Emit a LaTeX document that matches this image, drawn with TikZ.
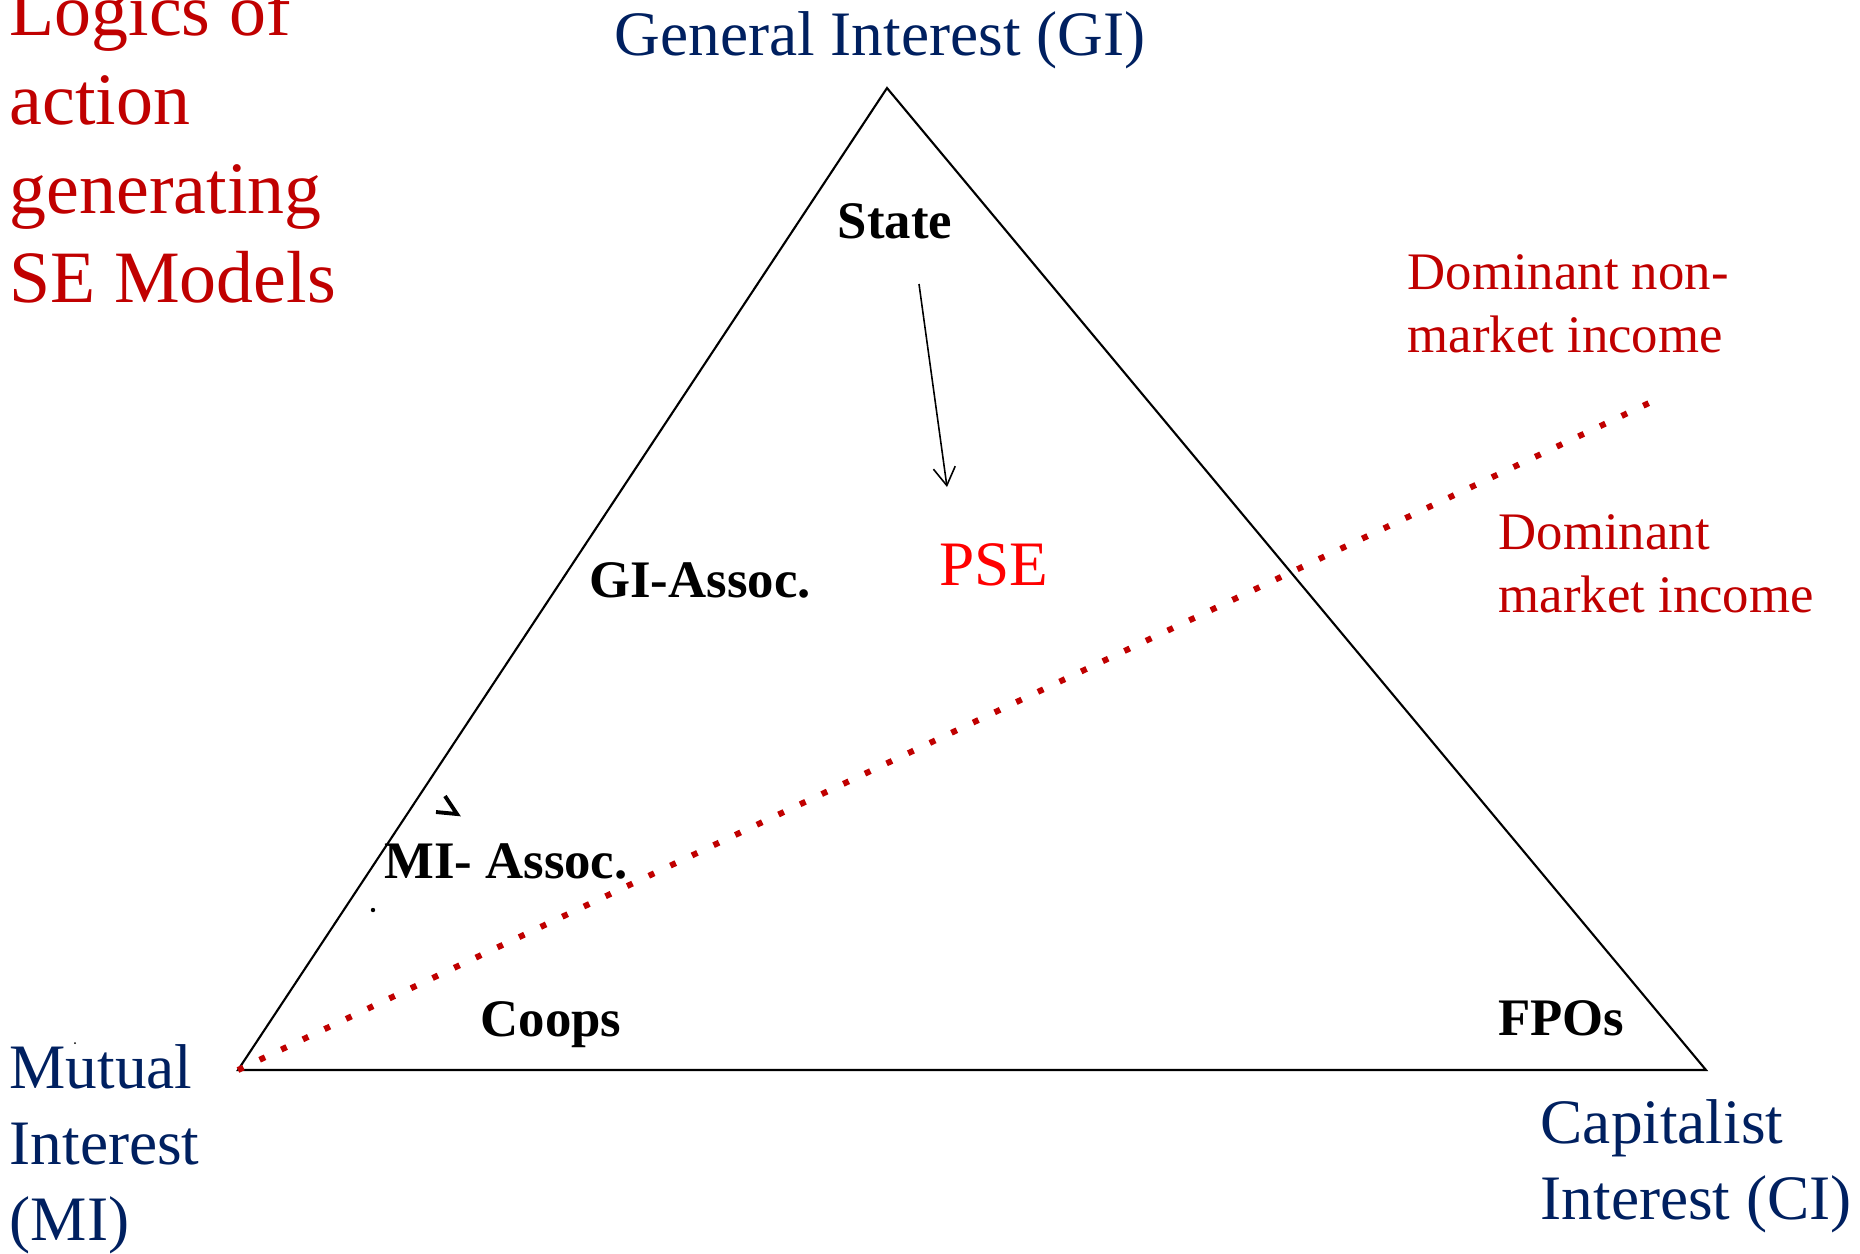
\documentclass[tikz,border=0pt]{standalone}
\usepackage{fontspec}
\setmainfont{Liberation Serif}
\usepackage{tikz}
\usetikzlibrary{arrows.meta, positioning}

\definecolor{ginavy}{RGB}{0,32,96}
\definecolor{sered}{RGB}{192,0,0}
\definecolor{pseRed}{RGB}{255,0,0}

\begin{document}
\begin{tikzpicture}[x=0.01cm, y=-0.01cm,
                pole/.style={text=ginavy, align=left, inner sep=0pt, anchor=base west,
                    font=\fontsize{18}{21.6}\selectfont},
                logic/.style={text=sered, align=left, inner sep=0pt, anchor=base west,
                    font=\fontsize{21}{25.3}\selectfont},
                income/.style={text=sered, align=left, inner sep=0pt, anchor=base west,
                    font=\fontsize{15}{17.9}\selectfont},
                actor/.style={inner sep=0pt, anchor=base, font=\fontsize{15}{18}\selectfont\bfseries},
                side/.style={line width=0.6pt},
                arr/.style={-{Straight Barb[length=1.8mm, width=2.2mm]}, line width=0.45pt},
                split/.style={sered, line width=1.7pt, dash pattern=on 1.7pt off 5.1pt}]
                \useasboundingbox (0,0) rectangle (1860,1253);
                % triangle corners
                \coordinate (top) at (887,88);
                \coordinate (left) at (238,1070);
                \coordinate (right) at (1706,1070);
                \draw[side] (top) -- (left) -- (right) -- cycle;
                % market / non-market split
                \coordinate (splitEnd) at (1649,403);
                \draw[split] (left) -- (splitEnd);
                % poles (base = last line)
                \node[pole, anchor=base] (gi) at (880,55) {General Interest (GI)};
                \node[pole] (mi) at (9,1240) {Mutual\\Interest\\(MI)};
                \node[pole] (ci) at (1540,1219) {Capitalist\\Interest (CI)};
                \node[logic] (logics) at (9,302) {Logics of\\action\\generating\\SE Models};
                \node[income] (nonmkt) at (1407,352) {Dominant non-\\market income};
                \node[income] (mkt) at (1498,612) {Dominant\\market income};
                % actors
                \node[actor] (state) at (895,238) {State};
                \node[actor] (giassoc) at (700,597) {GI-Assoc.};
                \node[actor] (miassoc) at (506,878) {MI- Assoc.};
                \node[actor] (coops) at (551,1036) {Coops};
                \node[actor] (fpos) at (1561,1035) {FPOs};
                \node[anchor=base, inner sep=0pt, text=pseRed, font=\fontsize{18}{21.6}\selectfont] (pse) at (994,585) {PSE};
                \coordinate (stateOut) at (919,284);
                \coordinate (pseIn) at (947,487);
                \draw[arr] (stateOut) -- (pseIn);
                % stray marks
                \draw[line width=1.1pt] (445,796) -- (457,814) -- (436,812);
                \fill (373,910) circle (2.2);
                \fill (75,1043) circle (1);
            \end{tikzpicture}
\end{document}
